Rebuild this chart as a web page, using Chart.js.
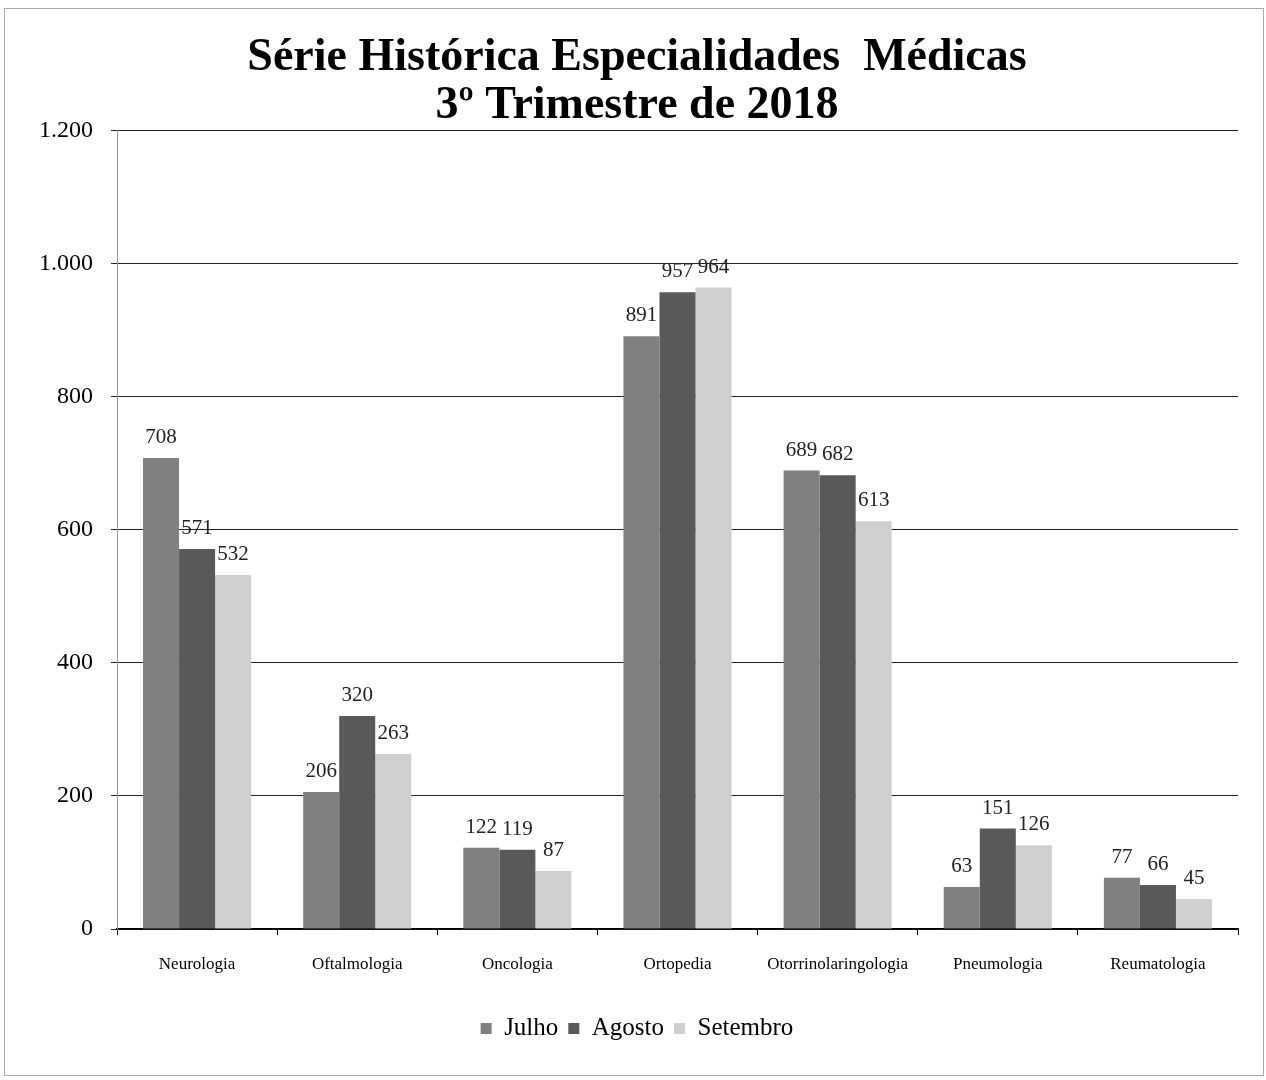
<!DOCTYPE html>
<html>
<head>
<meta charset="utf-8">
<script src="https://cdn.jsdelivr.net/npm/chart.js@4/dist/chart.umd.min.js"></script>
<style>
  html, body { margin: 0; padding: 0; background: #fff; }
  .wrap { position: relative; width: 1266px; height: 1080px; }
  .frame { position: absolute; left: 4px; top: 8px; width: 1258px; height: 1066px; border: 1px solid #aaa; pointer-events: none; }
</style>
</head>
<body>
<div class="wrap">
  <canvas id="chart" width="1266" height="1080"></canvas>
  <div class="frame"></div>
</div>
<script>
// Data
const categories = ['Neurologia', 'Oftalmologia', 'Oncologia', 'Ortopedia', 'Otorrinolaringologia', 'Pneumologia', 'Reumatologia'];
const julho = [708, 206, 122, 891, 689, 63, 77];
const agosto = [571, 320, 119, 957, 682, 151, 66];
const setembro = [532, 263, 87, 964, 613, 126, 45];

const serif = "'Liberation Serif', 'DejaVu Serif', serif";

// value labels above each bar
const valueLabels = {
  id: 'valueLabels',
  afterDatasetsDraw(chart) {
    const ctx = chart.ctx;
    ctx.save();
    ctx.font = '21px ' + serif;
    ctx.fillStyle = '#222';
    ctx.textAlign = 'center';
    ctx.textBaseline = 'bottom';
    chart.data.datasets.forEach((ds, i) => {
      chart.getDatasetMeta(i).data.forEach((bar, j) => {
        ctx.fillText(ds.data[j], bar.x, bar.y - 10);
      });
    });
    ctx.restore();
  }
};

const ctx = document.getElementById('chart').getContext('2d');
new Chart(ctx, {
  type: 'bar',
  data: {
    labels: categories,
    datasets: [
      { label: 'Julho', data: julho, backgroundColor: '#808080' },
      { label: 'Agosto', data: agosto, backgroundColor: '#595959' },
      { label: 'Setembro', data: setembro, backgroundColor: '#cfcfcf' }
    ]
  },
  options: {
    responsive: false,
    animation: false,
    layout: { padding: { top: 21, right: 28, bottom: 29, left: 36 } },
    datasets: {
      bar: { categoryPercentage: 0.675, barPercentage: 1.0, borderWidth: 0 }
    },
    plugins: {
      title: {
        display: true,
        text: ['Série Histórica Especialidades  Médicas', '3º Trimestre de 2018'],
        font: { family: serif, size: 46, weight: 'bold', lineHeight: 1.05 },
        color: '#000',
        padding: { top: 13, bottom: 0 }
      },
      legend: {
        position: 'bottom',
        labels: {
          font: { family: serif, size: 25 },
          color: '#000',
          boxWidth: 11,
          boxHeight: 11,
          padding: 10
        }
      },
      tooltip: { enabled: false }
    },
    scales: {
      x: {
        afterFit: s => { s.height = 77; },
        border: { color: '#000', width: 1.5 },
        grid: { drawOnChartArea: false, offset: true, tickLength: 6, color: '#000' },
        ticks: { font: { family: serif, size: 17 }, color: '#000', padding: 19, maxRotation: 0 }
      },
      y: {
        min: 0,
        max: 1200,
        afterFit: s => { s.width = 81; },
        border: { color: '#999', width: 1 },
        grid: { color: '#222', lineWidth: 1, tickLength: 6 },
        ticks: {
          stepSize: 200,
          font: { family: serif, size: 24 },
          color: '#000',
          padding: 18,
          callback: v => v.toLocaleString('pt-BR')
        }
      }
    }
  },
  plugins: [valueLabels]
});
</script>
</body>
</html>
